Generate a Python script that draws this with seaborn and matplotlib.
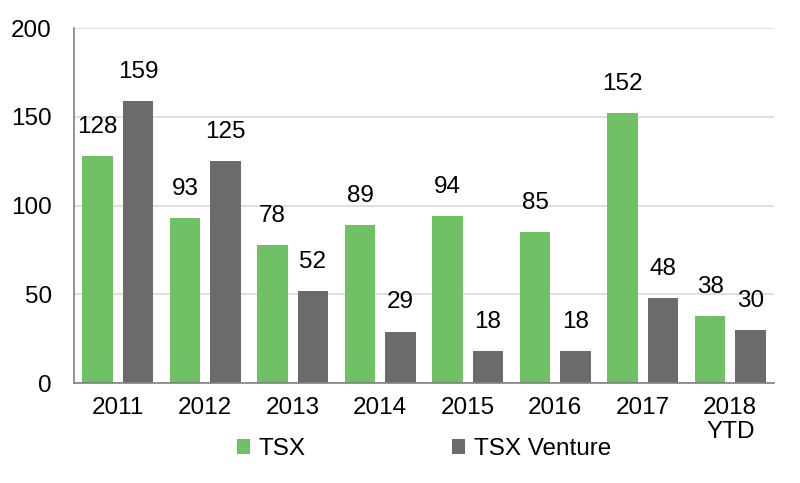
import matplotlib
matplotlib.use("Agg")
import matplotlib.pyplot as plt
import seaborn as sns
import pandas as pd

years = ["2011", "2012", "2013", "2014", "2015", "2016", "2017", "2018\nYTD"]
tsx = [128, 93, 78, 89, 94, 85, 152, 38]
venture = [159, 125, 52, 29, 18, 18, 48, 30]
series = ["TSX", "TSX Venture"]
colors = ["#70C065", "#6B6B6B"]

df = pd.DataFrame({
    "year": years * 2,
    "value": tsx + venture,
    "series": [series[0]] * len(years) + [series[1]] * len(years),
})

sns.set_style("white")
plt.rcParams["font.family"] = ["Liberation Sans", "DejaVu Sans"]
plt.rcParams["text.color"] = "black"
plt.rcParams["xtick.labelcolor"] = "black"
plt.rcParams["ytick.labelcolor"] = "black"

FS = 17.5

fig = plt.figure(figsize=(8, 4.83), dpi=100)
ax = fig.add_axes([0.0925, 0.207, 0.875, 0.735])

sns.barplot(data=df, x="year", y="value", hue="series", palette=colors,
            ax=ax, width=0.925, gap=0.235, linewidth=0, saturation=1)

for cont in ax.containers:
    ax.bar_label(cont, labels=[f"{int(v)}" for v in cont.datavalues],
                 padding=13, fontsize=FS, color="black")

ax.set_ylim(0, 200)
ax.set_xlim(-0.5, len(years) - 0.5)
ax.set_yticks([0, 50, 100, 150, 200])
ax.yaxis.grid(True, color="#D9D9D9", linewidth=1.2)
ax.set_axisbelow(True)
ax.set_xlabel("")
ax.set_ylabel("")
for s in ["top", "right"]:
    ax.spines[s].set_visible(False)
for s in ["left", "bottom"]:
    ax.spines[s].set_color("#808080")
    ax.spines[s].set_linewidth(1.2)

ax.set_xticks(range(len(years)))
ax.set_xticklabels(years, fontsize=FS, linespacing=1.15)
ax.tick_params(axis="x", length=0, pad=10, labelcolor="black")
ax.set_xticks([i - 0.5 for i in range(len(years) + 1)], minor=True)
ax.tick_params(axis="x", which="minor", length=7, color="#808080", width=1.2, direction="out")
ax.tick_params(axis="y", labelsize=FS, length=6, color="#808080", width=1.2, direction="out",
               pad=10, labelcolor="black")

leg = ax.legend(loc="center left", bbox_to_anchor=(0.233, -0.187), ncol=2, frameon=False,
                fontsize=FS, handlelength=0.55, handleheight=0.55, handletextpad=0.35,
                columnspacing=6.0, borderpad=0, borderaxespad=0, labelcolor="black")

fig.savefig("out.png", dpi=100)
